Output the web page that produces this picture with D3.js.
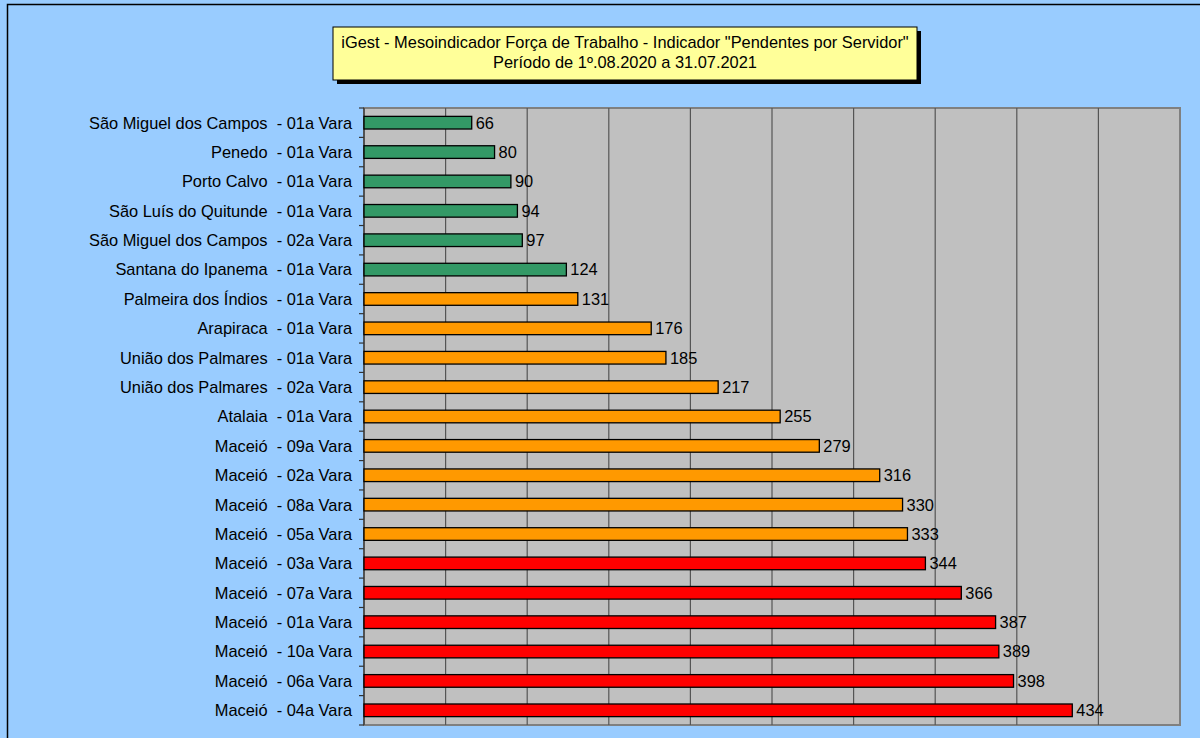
<!DOCTYPE html>
<html><head><meta charset="utf-8">
<script src="https://cdn.jsdelivr.net/npm/d3@7"></script>
<style>body{margin:0;background:#99CCFF;}svg{display:block;}</style>
</head><body>
<svg id="c" width="1200" height="738"></svg>
<script>
const categories = [
"São Miguel dos Campos  - 01a Vara","Penedo  - 01a Vara","Porto Calvo  - 01a Vara","São Luís do Quitunde  - 01a Vara",
"São Miguel dos Campos  - 02a Vara","Santana do Ipanema  - 01a Vara","Palmeira dos Índios  - 01a Vara","Arapiraca  - 01a Vara",
"União dos Palmares  - 01a Vara","União dos Palmares  - 02a Vara","Atalaia  - 01a Vara","Maceió  - 09a Vara","Maceió  - 02a Vara",
"Maceió  - 08a Vara","Maceió  - 05a Vara","Maceió  - 03a Vara","Maceió  - 07a Vara","Maceió  - 01a Vara","Maceió  - 10a Vara",
"Maceió  - 06a Vara","Maceió  - 04a Vara"];
const values = [66,80,90,94,97,124,131,176,185,217,255,279,316,330,333,344,366,387,389,398,434];
const groups = ["g","g","g","g","g","g","o","o","o","o","o","o","o","o","o","r","r","r","r","r","r"];
const groupColors = {g:"#339966", o:"#FF9900", r:"#FF0000"};
const titleLines = ['iGest - Mesoindicador Força de Trabalho - Indicador "Pendentes por Servidor"','Período de 1º.08.2020 a 31.07.2021'];

const svg = d3.select("#c");
const font = "Liberation Sans, Arial, sans-serif";
const fs = 16.4;
svg.append("rect").attr("x",7.5).attr("y",4.5).attr("width",1210).attr("height",760)
  .attr("fill","#99CCFF").attr("stroke","#000").attr("stroke-width",1.5);

const L=364, R=1180, T=108, B=725;
const x = d3.scaleLinear().domain([0,500]).range([L,R]);
const y = d3.scaleBand().domain(categories).range([T,B]).paddingInner(0.57).paddingOuter(0.285);
const yb = d3.scaleBand().domain(categories).range([T,B]);

svg.append("rect").attr("x",L).attr("y",T).attr("width",R-L).attr("height",B-T)
  .attr("fill","#C0C0C0").attr("stroke","#808080").attr("stroke-width",2);

svg.append("g").selectAll("line").data(d3.range(50,500,50)).join("line")
  .attr("x1",d=>x(d)).attr("x2",d=>x(d)).attr("y1",T).attr("y2",B)
  .attr("stroke","#555").attr("stroke-width",1.2);

svg.append("line").attr("x1",L).attr("x2",L).attr("y1",T).attr("y2",B).attr("stroke","#333").attr("stroke-width",1.2);
const bounds = categories.map(c=>yb(c)).concat([B]);
svg.append("g").selectAll("line").data(bounds).join("line")
  .attr("x1",L-5).attr("x2",L).attr("y1",d=>d).attr("y2",d=>d).attr("stroke","#333").attr("stroke-width",1.2);

svg.append("g").selectAll("text").data(categories).join("text")
  .attr("x",352).attr("y",d=>yb(d)+yb.bandwidth()/2).attr("dy","0.36em")
  .attr("text-anchor","end").style("white-space","pre")
  .attr("font-family",font).attr("font-size",fs).attr("fill","#000").text(d=>d);

svg.append("g").selectAll("rect").data(values).join("rect")
  .attr("x",x(0)).attr("y",(d,i)=>y(categories[i])).attr("width",d=>x(d)-x(0)).attr("height",y.bandwidth())
  .attr("fill",(d,i)=>groupColors[groups[i]]).attr("stroke","#000").attr("stroke-width",1.3);

svg.append("g").selectAll("text").data(values).join("text")
  .attr("x",d=>x(d)+4).attr("y",(d,i)=>yb(categories[i])+yb.bandwidth()/2).attr("dy","0.36em")
  .attr("font-family",font).attr("font-size",fs).attr("fill","#000").text(d=>d);

const bx=333, by=27, bw=584, bh=53;
svg.append("rect").attr("x",bx+4).attr("y",by+4).attr("width",bw).attr("height",bh).attr("fill","#000");
svg.append("rect").attr("x",bx).attr("y",by).attr("width",bw).attr("height",bh).attr("fill","#FFFF99").attr("stroke","#000").attr("stroke-width",1);
svg.append("g").selectAll("text").data(titleLines).join("text")
  .attr("x",bx+bw/2).attr("y",(d,i)=>by+21+i*20).attr("text-anchor","middle")
  .attr("font-family",font).attr("font-size",fs).attr("fill","#000").text(d=>d);
</script>
</body></html>
